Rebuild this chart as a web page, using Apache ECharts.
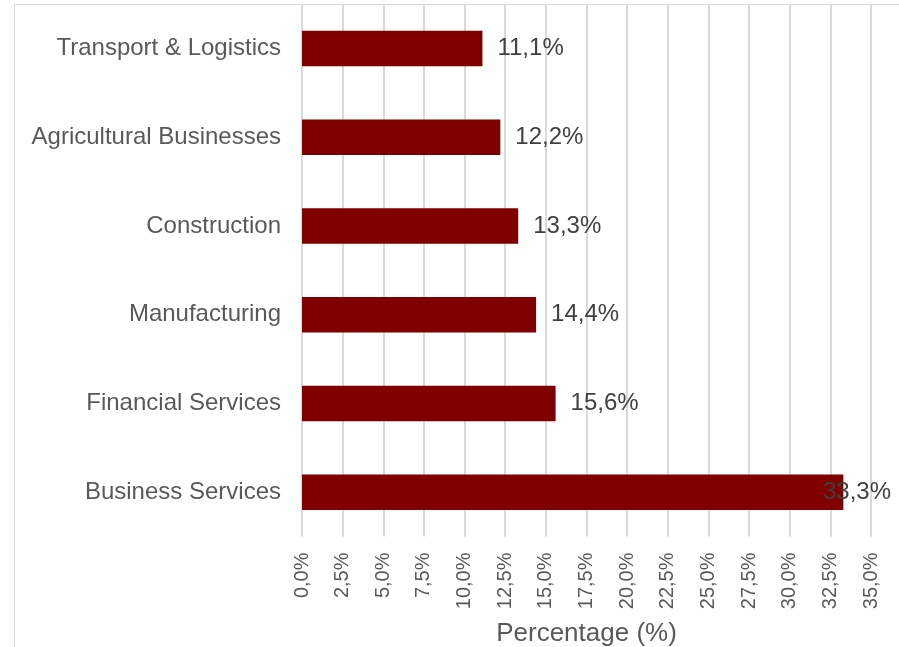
<!DOCTYPE html>
<html>
<head>
<meta charset="utf-8">
<script src="https://cdn.jsdelivr.net/npm/echarts@6/dist/echarts.min.js"></script>
<style>
  html, body { margin: 0; padding: 0; background: #ffffff; }
  #chart { width: 899px; height: 647px; }
</style>
</head>
<body>
<div id="chart"></div>
<script>
// Sectors, listed top to bottom
const sectors = [
  'Transport & Logistics',
  'Agricultural Businesses',
  'Construction',
  'Manufacturing',
  'Financial Services',
  'Business Services'
];
// Share of each sector, in percent
const shares = [11.1, 12.2, 13.3, 14.4, 15.6, 33.3];
// Percentage axis range
const axisMin = 0;
const axisMax = 35;
const axisStep = 2.5;
const axisTitle = 'Percentage (%)';

const FONT = '"Liberation Sans", Arial, sans-serif';
const RIGHT_LIMIT = 891;

function pct(v) {
  return Number(v).toFixed(1).replace('.', ',') + '%';
}

const chart = echarts.init(document.getElementById('chart'), null, { renderer: 'canvas' });

chart.setOption({
  animation: false,
  backgroundColor: '#ffffff',
  textStyle: { fontFamily: FONT },
  graphic: [{
    type: 'rect',
    silent: true,
    shape: { x: 14.5, y: 4.5, width: 1000, height: 1000 },
    style: { fill: 'none', stroke: '#d9d9d9', lineWidth: 1 }
  }],
  grid: {
    left: 302, right: 28, top: 4, bottom: 110.5,
    containLabel: false,
    outerBoundsMode: 'none'
  },
  xAxis: {
    type: 'value',
    min: axisMin,
    max: axisMax,
    interval: axisStep,
    name: axisTitle,
    nameLocation: 'middle',
    nameGap: 84,
    nameTextStyle: { fontSize: 26, color: '#595959', fontFamily: FONT },
    axisLine: { show: false },
    axisTick: { show: false },
    axisLabel: {
      rotate: 90,
      margin: 16,
      fontSize: 20,
      color: '#595959',
      fontFamily: FONT,
      formatter: pct
    },
    splitLine: { show: true, lineStyle: { color: '#d9d9d9', width: 2 } }
  },
  yAxis: {
    type: 'category',
    data: sectors,
    inverse: true,
    axisLine: { show: false },
    axisTick: { show: false },
    axisLabel: { margin: 21, fontSize: 24, color: '#595959', fontFamily: FONT },
    splitLine: { show: false }
  },
  series: [{
    type: 'bar',
    data: shares,
    barCategoryGap: '60%',
    itemStyle: { color: '#800000' },
    label: {
      show: true,
      position: 'right',
      distance: 15,
      fontSize: 24,
      color: '#404040',
      fontFamily: FONT,
      formatter: p => pct(p.value)
    },
    labelLayout: function (params) {
      // keep value labels inside the chart frame
      const r = params.labelRect;
      const over = r.x + r.width - RIGHT_LIMIT;
      if (over > 0) return { dx: -over };
      return {};
    }
  }]
});
</script>
</body>
</html>
